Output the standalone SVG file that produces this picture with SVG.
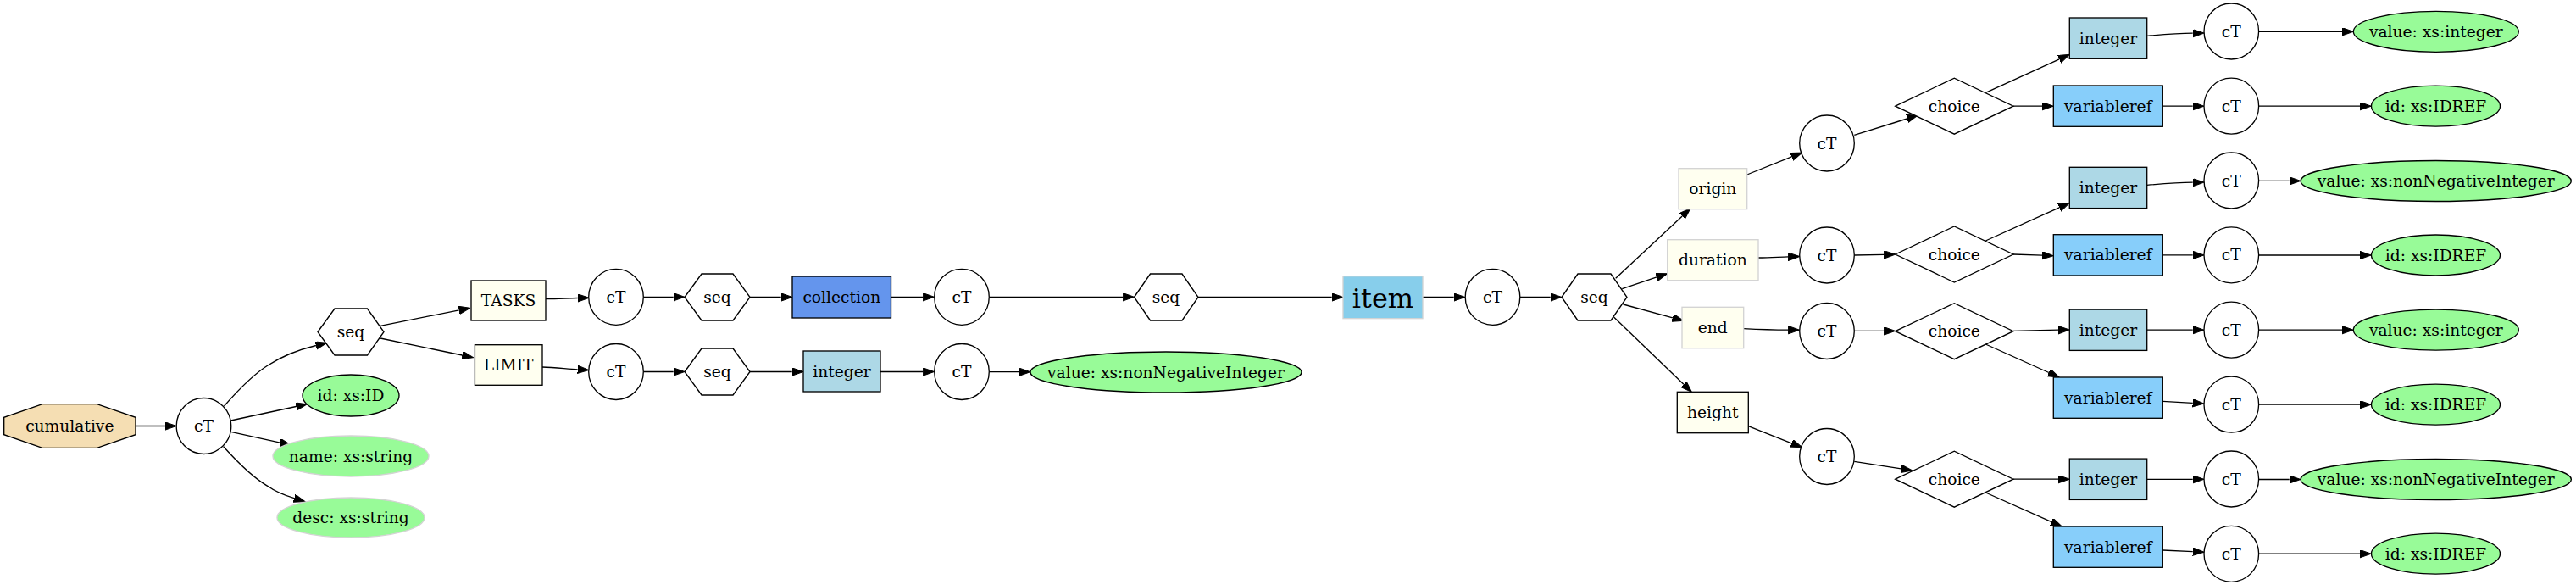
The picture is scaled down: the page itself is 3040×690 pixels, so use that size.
<svg xmlns="http://www.w3.org/2000/svg" width="3040" height="690" viewBox="0 0 3040 690">
<defs>
<marker id="a" markerUnits="userSpaceOnUse" viewBox="0 0 14 10" markerWidth="14" markerHeight="10" refX="0" refY="4.67" orient="auto">
<path d="M0,0 L13.3,4.67 L0,9.33 z" fill="#000" stroke="#000" stroke-width="1"/>
</marker>
</defs>
<style>
.s{stroke:#000;stroke-width:1.33;fill:#fff}
.g{stroke:#d3d3d3;stroke-width:1.33}
.b{stroke:#000;stroke-width:1.33}
.el{fill:#98fb98}
.iv{fill:#fffff0}
.int{fill:#add8e6}
.vr{fill:#87cefa}
text{font-family:"DejaVu Serif","Liberation Serif",serif;font-size:18.67px;text-anchor:middle;fill:#000}
.e path{fill:none;stroke:#000;stroke-width:1.33;marker-end:url(#a)}
</style>
<rect width="3040" height="690" fill="#fff"/>
<g class="e" id="edges">
<path d="M160,502.5 L194.9,502.5"/>
<path d="M264.5,479 C282,459 300,441 316,431 C333,420 350,413 372.9,407.5"/>
<path d="M272.5,496 L349.4,479.5"/>
<path d="M272.4,509.3 L330.5,522.1"/>
<path d="M263.7,526.7 C282,547 298,563 315.8,573.3 C325,580 335,584 347.2,587.7"/>
<path d="M448.9,384.3 L541.7,365.9"/>
<path d="M448.9,399 L545.6,419"/>
<path d="M644,352.7 C660,352.5 670,351.7 681.7,351.5"/>
<path d="M759.5,350.3 L794.7,350.3"/>
<path d="M885,350.5 L921.7,350.5"/>
<path d="M1051.5,350.3 L1089.2,350.3"/>
<path d="M1167.5,350.3 L1325.2,350.3"/>
<path d="M1414,350.5 L1571.7,350.5"/>
<path d="M1679,350.5 L1715.7,350.5"/>
<path d="M1794,350.5 L1829.7,350.5"/>
<path d="M640,433 C655,433.5 668,435 681.7,435.8"/>
<path d="M759.5,438.5 L794.7,438.5"/>
<path d="M885,438.5 L934.7,438.5"/>
<path d="M1039,438.5 L1089.2,438.5"/>
<path d="M1167.5,438.7 L1202.7,438.7"/>
<path d="M1906.7,328.3 L1985.2,254.9"/>
<path d="M1914.3,340.7 L1955.1,326.9"/>
<path d="M1915.6,359 L1973.9,374.8"/>
<path d="M1904.5,374 L1986.9,453.3"/>
<path d="M2061.7,206 L2114.4,184.9"/>
<path d="M2188.3,159.3 L2250.6,140"/>
<path d="M2343.3,109.3 L2430.2,69.8"/>
<path d="M2376,125.2 L2410,125.2"/>
<path d="M2533.7,42.3 C2550,41 2570,39.5 2587.7,39.2"/>
<path d="M2666,37.3 L2764,37.3"/>
<path d="M2552.3,125.2 L2587.7,125.2"/>
<path d="M2666,125.2 L2785,125.2"/>
<path d="M2075,304 C2090,304 2100,303 2110.4,302.8"/>
<path d="M2188.3,301 L2223.4,300.3"/>
<path d="M2343.3,284 L2430.2,244.8"/>
<path d="M2376,300 L2410,301.2"/>
<path d="M2533.7,218.3 C2550,217 2570,215.5 2587.7,215.2"/>
<path d="M2665.7,213.4 L2701.7,213.4"/>
<path d="M2552.3,300.9 L2587.7,300.9"/>
<path d="M2666,301 L2785,301"/>
<path d="M2057.7,387.7 C2075,388.6 2095,389.2 2110.4,389.2"/>
<path d="M2188.3,390.4 L2223.4,390.4"/>
<path d="M2376,390.3 L2429,389.2"/>
<path d="M2343.3,406 L2417.9,439.5"/>
<path d="M2533.7,389.2 L2587.7,389.2"/>
<path d="M2666,389.2 L2764,389.2"/>
<path d="M2552.3,473.3 L2587.7,475.3"/>
<path d="M2666,477.2 L2785,477.2"/>
<path d="M2063.3,502.7 L2114.3,522.8"/>
<path d="M2188.3,544.3 L2243.5,552.9"/>
<path d="M2376,565.2 L2429,565.2"/>
<path d="M2343.3,581 L2421.1,615.6"/>
<path d="M2533.7,565.3 L2587.7,565.3"/>
<path d="M2665.7,565.5 L2701.7,565.5"/>
<path d="M2552.3,649 L2587.7,650.6"/>
<path d="M2666,653.2 L2785,653.2"/>
</g>
<g id="cumulative"><polygon class="b" fill="#f5deb3" points="160,492.3 160,512.7 114.5,528.3 50,528.3 4.7,512.7 4.7,492.3 50,476.7 114.5,476.7"/><text x="82.3" y="509">cumulative</text></g>
<g id="ct0"><ellipse class="s" cx="240.5" cy="502.5" rx="32.3" ry="33"/><text x="240.5" y="509">cT</text></g>
<g id="seq0"><polygon class="s" points="375,391.5 395,364 433.5,364 453,391.5 433.5,419 395,419"/><text x="414" y="398">seq</text></g>
<g id="attr-id"><ellipse class="b el" cx="414" cy="466.5" rx="57" ry="24.5"/><text x="414" y="473">id: xs:ID</text></g>
<g id="attr-name"><ellipse class="g el" cx="414" cy="538" rx="92" ry="24"/><text x="414" y="544.5">name: xs:string</text></g>
<g id="attr-desc"><ellipse class="g el" cx="414" cy="610.5" rx="87" ry="23.5"/><text x="414" y="617">desc: xs:string</text></g>
<g id="tasks"><rect class="b iv" x="556" y="331" width="88" height="47"/><text x="600" y="361">TASKS</text></g>
<g id="limit"><rect class="b iv" x="560.4" y="406.7" width="79.6" height="47.6"/><text x="600.2" y="437">LIMIT</text></g>
<g id="ct1"><ellipse class="s" cx="727" cy="350.3" rx="32.3" ry="33"/><text x="727" y="357">cT</text></g>
<g id="seq1"><polygon class="s" points="808,350.5 828,323 865,323 885,350.5 865,378 828,378"/><text x="846.5" y="357">seq</text></g>
<g id="collection"><rect class="b" fill="#6495ed" x="935" y="326" width="116.5" height="49"/><text x="993.3" y="357">collection</text></g>
<g id="ct2"><ellipse class="s" cx="1135" cy="350.3" rx="32.3" ry="33"/><text x="1135" y="357">cT</text></g>
<g id="seq2"><polygon class="s" points="1338.5,350.5 1357.5,323 1395,323 1414,350.5 1395,378 1357.5,378"/><text x="1376" y="357">seq</text></g>
<g id="item"><rect class="g" fill="#87ceeb" x="1585" y="325.7" width="94" height="50"/><text x="1632" y="362.7" style="font-size:32px">item</text></g>
<g id="ct5"><ellipse class="s" cx="1761.5" cy="350.3" rx="32.3" ry="33"/><text x="1761.5" y="357">cT</text></g>
<g id="seq5"><polygon class="s" points="1843,350.5 1862,323 1901,323 1920,350.5 1901,378 1862,378"/><text x="1881.5" y="357">seq</text></g>
<g id="ct3"><ellipse class="s" cx="727" cy="438.5" rx="32.3" ry="33"/><text x="727" y="445">cT</text></g>
<g id="seq3"><polygon class="s" points="808,438.5 828,411 865,411 885,438.5 865,466 828,466"/><text x="846.5" y="445">seq</text></g>
<g id="integer0"><rect class="b int" x="948" y="414" width="91" height="48"/><text x="993.5" y="444.5">integer</text></g>
<g id="ct4"><ellipse class="s" cx="1135" cy="438.5" rx="32.3" ry="33"/><text x="1135" y="445">cT</text></g>
<g id="value0"><ellipse class="b el" cx="1376" cy="439" rx="160" ry="24"/><text x="1376" y="445.5">value: xs:nonNegativeInteger</text></g>
<g id="origin"><rect class="g iv" x="1981" y="198.7" width="80.7" height="48"/><text x="2021.3" y="229">origin</text></g>
<g id="duration"><rect class="g iv" x="1967.7" y="282.7" width="107.3" height="48"/><text x="2021.3" y="313">duration</text></g>
<g id="end"><rect class="g iv" x="1985" y="362.3" width="72.7" height="48.4"/><text x="2021.3" y="393">end</text></g>
<g id="height"><rect class="b iv" x="1979.3" y="462.3" width="84" height="48.4"/><text x="2021.3" y="493">height</text></g>
<g id="ct-o"><ellipse class="s" cx="2156" cy="169" rx="32.3" ry="33"/><text x="2156" y="175.5">cT</text></g>
<g id="ct-d"><ellipse class="s" cx="2156" cy="301" rx="32.3" ry="33"/><text x="2156" y="307.5">cT</text></g>
<g id="ct-e"><ellipse class="s" cx="2156" cy="390.5" rx="32.3" ry="33"/><text x="2156" y="397">cT</text></g>
<g id="ct-h"><ellipse class="s" cx="2156" cy="538.5" rx="32.3" ry="33"/><text x="2156" y="545">cT</text></g>
<g id="choice-o"><polygon class="s" points="2236.7,125.2 2306.3,92.2 2376,125.2 2306.3,158.2"/><text x="2306.3" y="131.7">choice</text></g>
<g id="choice-d"><polygon class="s" points="2236.7,300 2306.3,267 2376,300 2306.3,333"/><text x="2306.3" y="306.5">choice</text></g>
<g id="choice-e"><polygon class="s" points="2236.7,390.7 2306.3,357.7 2376,390.7 2306.3,423.7"/><text x="2306.3" y="397.2">choice</text></g>
<g id="choice-h"><polygon class="s" points="2236.7,565.2 2306.3,532.2 2376,565.2 2306.3,598.2"/><text x="2306.3" y="571.7">choice</text></g>
<g id="integer-o"><rect class="b int" x="2442.3" y="21" width="91.4" height="48.3"/><text x="2488" y="51.7">integer</text></g>
<g id="integer-d"><rect class="b int" x="2442.3" y="197.3" width="91.4" height="48.3"/><text x="2488" y="228">integer</text></g>
<g id="integer-e"><rect class="b int" x="2442.3" y="365.1" width="91.4" height="48.3"/><text x="2488" y="395.8">integer</text></g>
<g id="integer-h"><rect class="b int" x="2442.3" y="541.1" width="91.4" height="48.3"/><text x="2488" y="571.8">integer</text></g>
<g id="varref-o"><rect class="b vr" x="2423.3" y="101" width="129" height="48.3"/><text x="2487.8" y="131.7">variableref</text></g>
<g id="varref-d"><rect class="b vr" x="2423.3" y="276.7" width="129" height="48.3"/><text x="2487.8" y="307.3">variableref</text></g>
<g id="varref-e"><rect class="b vr" x="2423.3" y="445" width="129" height="48.3"/><text x="2487.8" y="475.7">variableref</text></g>
<g id="varref-h"><rect class="b vr" x="2423.3" y="621" width="129" height="48.3"/><text x="2487.8" y="651.7">variableref</text></g>
<g id="ct-io"><ellipse class="s" cx="2633.3" cy="37" rx="32.3" ry="33"/><text x="2633.3" y="43.5">cT</text></g>
<g id="ct-vo"><ellipse class="s" cx="2633.3" cy="125.2" rx="32.3" ry="33"/><text x="2633.3" y="131.7">cT</text></g>
<g id="ct-id"><ellipse class="s" cx="2633.3" cy="213" rx="32.3" ry="33"/><text x="2633.3" y="219.5">cT</text></g>
<g id="ct-vd"><ellipse class="s" cx="2633.3" cy="300.8" rx="32.3" ry="33"/><text x="2633.3" y="307.3">cT</text></g>
<g id="ct-ie"><ellipse class="s" cx="2633.3" cy="389.2" rx="32.3" ry="33"/><text x="2633.3" y="395.7">cT</text></g>
<g id="ct-ve"><ellipse class="s" cx="2633.3" cy="477.2" rx="32.3" ry="33"/><text x="2633.3" y="483.7">cT</text></g>
<g id="ct-ih"><ellipse class="s" cx="2633.3" cy="565" rx="32.3" ry="33"/><text x="2633.3" y="571.5">cT</text></g>
<g id="ct-vh"><ellipse class="s" cx="2633.3" cy="653.3" rx="32.3" ry="33"/><text x="2633.3" y="659.8">cT</text></g>
<g id="val-o"><ellipse class="b el" cx="2874.8" cy="37.3" rx="97.5" ry="24"/><text x="2874.8" y="43.8">value: xs:integer</text></g>
<g id="idref-o"><ellipse class="b el" cx="2874.5" cy="125.2" rx="76" ry="24"/><text x="2874.5" y="131.7">id: xs:IDREF</text></g>
<g id="val-d"><ellipse class="b el" cx="2874.7" cy="213.5" rx="159.7" ry="24"/><text x="2874.7" y="220">value: xs:nonNegativeInteger</text></g>
<g id="idref-d"><ellipse class="b el" cx="2874.5" cy="301" rx="76" ry="24"/><text x="2874.5" y="307.5">id: xs:IDREF</text></g>
<g id="val-e"><ellipse class="b el" cx="2874.8" cy="389.2" rx="97.5" ry="24"/><text x="2874.8" y="395.7">value: xs:integer</text></g>
<g id="idref-e"><ellipse class="b el" cx="2874.5" cy="477.2" rx="76" ry="24"/><text x="2874.5" y="483.7">id: xs:IDREF</text></g>
<g id="val-h"><ellipse class="b el" cx="2874.7" cy="565.5" rx="159.7" ry="24"/><text x="2874.7" y="572">value: xs:nonNegativeInteger</text></g>
<g id="idref-h"><ellipse class="b el" cx="2874.5" cy="653.2" rx="76" ry="24"/><text x="2874.5" y="659.7">id: xs:IDREF</text></g>
</svg>
